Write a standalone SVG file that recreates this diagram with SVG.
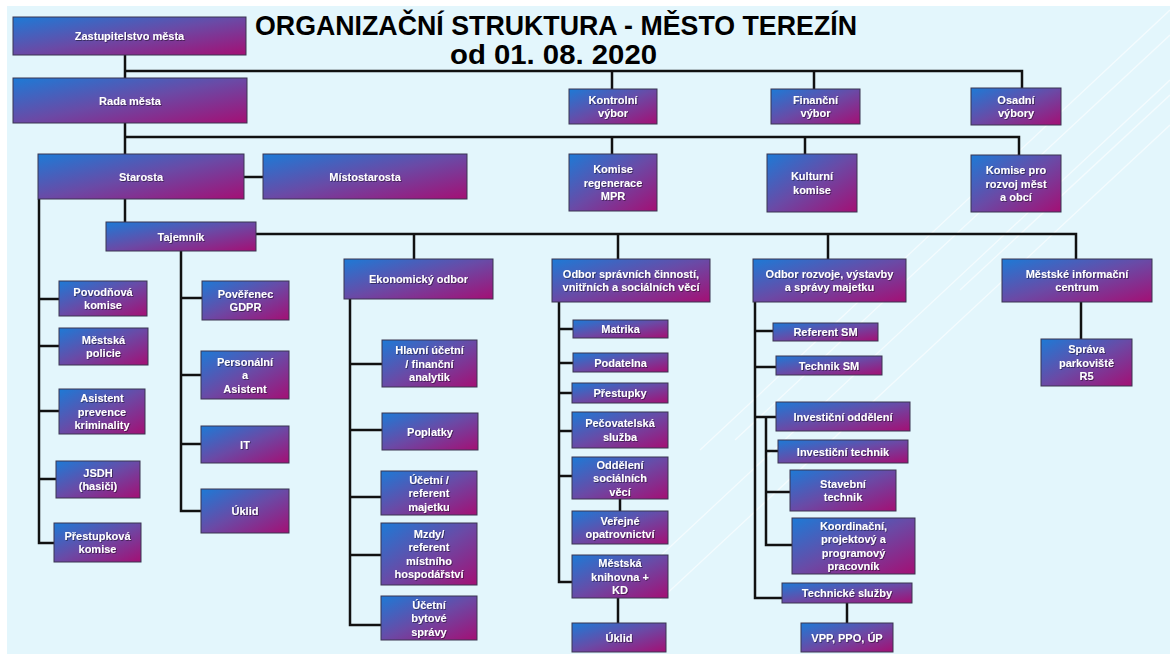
<svg xmlns="http://www.w3.org/2000/svg" width="1170" height="654" viewBox="0 0 1170 654">
<defs>
<linearGradient id="boxGrad" x1="0" y1="0" x2="1" y2="1">
<stop offset="0" stop-color="#1d7ad6"/>
<stop offset="0.5" stop-color="#6a4aa6"/>
<stop offset="1" stop-color="#a40f74"/>
</linearGradient>
<filter id="ts" x="-10%" y="-30%" width="130%" height="160%">
<feDropShadow dx="0.8" dy="0.8" stdDeviation="0.4" flood-color="#000" flood-opacity="0.55"/>
</filter>
</defs>
<style>
.bx{fill:url(#boxGrad);stroke:#3a3550;stroke-width:1}
.t{font-family:"Liberation Sans",Arial,sans-serif;font-weight:bold;font-size:11px;fill:#fff;text-anchor:middle;filter:url(#ts)}
.c{fill:none;stroke:#111;stroke-width:2.5}
.deco{stroke:#fff;stroke-opacity:0.6;stroke-width:1.3}
.title{font-family:"Liberation Sans",Arial,sans-serif;font-weight:bold;font-size:28px;fill:#000}
</style>
<rect x="0" y="0" width="1170" height="654" fill="#fff"/>
<rect x="7" y="6" width="1163" height="648" fill="#e3f6fc"/>
<g id="decor">
<line class="deco" x1="640" y1="575" x2="1170" y2="80"/>
<line class="deco" x1="660" y1="600" x2="1170" y2="125"/>
<line class="deco" x1="700" y1="450" x2="1170" y2="10"/>
<line class="deco" x1="735" y1="440" x2="1170" y2="35"/>
<line class="deco" x1="960" y1="290" x2="1170" y2="95"/>
</g>
<g id="title">
<text class="title" x="255" y="35" textLength="602" lengthAdjust="spacingAndGlyphs">ORGANIZAČNÍ STRUKTURA - MĚSTO TEREZÍN</text>
<text class="title" x="450" y="64" textLength="207" lengthAdjust="spacingAndGlyphs">od 01. 08. 2020</text>
</g>
<g id="connectors">
<path class="c" d="M125 55 V78 M125 71 H1022 V88 M612 71 V89 M814 71 V89"/>
<path class="c" d="M125 123 V154 M125 137 H1019 V155 M612 137 V154 M805 137 V154"/>
<path class="c" d="M244 177 H263"/>
<path class="c" d="M125 199 V222"/>
<path class="c" d="M39 199 V543 H54 M39 299 H59 M39 346 H59 M39 411 H59 M39 479 H56"/>
<path class="c" d="M256 234 H1076 V259 M414 234 V259 M618 234 V259 M828 234 V259"/>
<path class="c" d="M181 251 V511 H201 M181 298 H202 M181 375 H201 M181 444 H201"/>
<path class="c" d="M350 299 V625 H381 M350 364 H382 M350 430 H382 M350 497 H381 M350 555 H381"/>
<path class="c" d="M559 302 V582 H572 M559 329 H573 M559 363 H573 M559 393 H572 M559 431 H572 M559 476 H572 M620 499 V511 M618 598 V623"/>
<path class="c" d="M755 302 V598 H782 M755 331 H773 M755 367 H776 M755 417 H776 M766 417 V545 H792 M766 451 H778 M766 492 H790 M847 603 V623"/>
<path class="c" d="M1081 302 V339"/>
</g>
<g id="zastupitelstvo"><rect class="bx" x="13" y="17" width="233" height="38"/><text class="t" x="129.5" y="40">Zastupitelstvo města</text></g>
<g id="rada"><rect class="bx" x="13" y="78" width="234" height="45"/><text class="t" x="130" y="104.5">Rada města</text></g>
<g id="starosta"><rect class="bx" x="38" y="154" width="206" height="45"/><text class="t" x="141" y="180.5">Starosta</text></g>
<g id="mistostarosta"><rect class="bx" x="263" y="154" width="204" height="45"/><text class="t" x="365" y="180.5">Místostarosta</text></g>
<g id="kontrolni"><rect class="bx" x="569" y="89" width="88" height="35"/><text class="t" x="613" y="103.75">Kontrolní</text><text class="t" x="613" y="117.25">výbor</text></g>
<g id="financni"><rect class="bx" x="771" y="89" width="89" height="35"/><text class="t" x="815.5" y="103.75">Finanční</text><text class="t" x="815.5" y="117.25">výbor</text></g>
<g id="osadni"><rect class="bx" x="971" y="88" width="90" height="37"/><text class="t" x="1016" y="103.75">Osadní</text><text class="t" x="1016" y="117.25">výbory</text></g>
<g id="regenerace"><rect class="bx" x="569" y="154" width="88" height="57"/><text class="t" x="613" y="173">Komise</text><text class="t" x="613" y="186.5">regenerace</text><text class="t" x="613" y="200">MPR</text></g>
<g id="kulturni"><rect class="bx" x="767" y="154" width="90" height="58"/><text class="t" x="812" y="180.25">Kulturní</text><text class="t" x="812" y="193.75">komise</text></g>
<g id="rozvojmest"><rect class="bx" x="971" y="155" width="90" height="57"/><text class="t" x="1016" y="174">Komise pro</text><text class="t" x="1016" y="187.5">rozvoj měst</text><text class="t" x="1016" y="201">a obcí</text></g>
<g id="tajemnik"><rect class="bx" x="106" y="222" width="150" height="29"/><text class="t" x="181" y="240.5">Tajemník</text></g>
<g id="povodnova"><rect class="bx" x="59" y="281" width="88" height="35"/><text class="t" x="103" y="295.75">Povodňová</text><text class="t" x="103" y="309.25">komise</text></g>
<g id="policie"><rect class="bx" x="59" y="328" width="89" height="37"/><text class="t" x="103.5" y="343.75">Městská</text><text class="t" x="103.5" y="357.25">policie</text></g>
<g id="asistent"><rect class="bx" x="59" y="389" width="86" height="45"/><text class="t" x="102" y="402">Asistent</text><text class="t" x="102" y="415.5">prevence</text><text class="t" x="102" y="429">kriminality</text></g>
<g id="jsdh"><rect class="bx" x="56" y="461" width="84" height="37"/><text class="t" x="98" y="476.75">JSDH</text><text class="t" x="98" y="490.25">(hasiči)</text></g>
<g id="prestupkova"><rect class="bx" x="54" y="523" width="87" height="39"/><text class="t" x="97.5" y="539.75">Přestupková</text><text class="t" x="97.5" y="553.25">komise</text></g>
<g id="gdpr"><rect class="bx" x="202" y="281" width="87" height="39"/><text class="t" x="245.5" y="297.75">Pověřenec</text><text class="t" x="245.5" y="311.25">GDPR</text></g>
<g id="personalni"><rect class="bx" x="201" y="351" width="88" height="48"/><text class="t" x="245" y="365.5">Personální</text><text class="t" x="245" y="379">a</text><text class="t" x="245" y="392.5">Asistent</text></g>
<g id="it"><rect class="bx" x="201" y="426" width="88" height="37"/><text class="t" x="245" y="448.5">IT</text></g>
<g id="uklid1"><rect class="bx" x="201" y="489" width="88" height="44"/><text class="t" x="245" y="515">Úklid</text></g>
<g id="ekonomicky"><rect class="bx" x="344" y="259" width="149" height="40"/><text class="t" x="418.5" y="283">Ekonomický odbor</text></g>
<g id="hlavniucetni"><rect class="bx" x="382" y="340" width="95" height="47"/><text class="t" x="429.5" y="354">Hlavní účetní</text><text class="t" x="429.5" y="367.5">/ finanční</text><text class="t" x="429.5" y="381">analytik</text></g>
<g id="poplatky"><rect class="bx" x="382" y="413" width="96" height="37"/><text class="t" x="430" y="435.5">Poplatky</text></g>
<g id="ucetnimajetku"><rect class="bx" x="381" y="471" width="96" height="44"/><text class="t" x="429" y="483.5">Účetní /</text><text class="t" x="429" y="497">referent</text><text class="t" x="429" y="510.5">majetku</text></g>
<g id="mzdy"><rect class="bx" x="381" y="523" width="96" height="62"/><text class="t" x="429" y="537.75">Mzdy/</text><text class="t" x="429" y="551.25">referent</text><text class="t" x="429" y="564.75">místního</text><text class="t" x="429" y="578.25">hospodářství</text></g>
<g id="bytove"><rect class="bx" x="381" y="596" width="96" height="44"/><text class="t" x="429" y="608.5">Účetní</text><text class="t" x="429" y="622">bytové</text><text class="t" x="429" y="635.5">správy</text></g>
<g id="spravni"><rect class="bx" x="552" y="259" width="158" height="43"/><text class="t" x="631" y="277.75">Odbor správních činností,</text><text class="t" x="631" y="291.25">vnitřních a sociálních věcí</text></g>
<g id="matrika"><rect class="bx" x="573" y="320" width="95" height="18"/><text class="t" x="620.5" y="333">Matrika</text></g>
<g id="podatelna"><rect class="bx" x="573" y="353" width="95" height="19"/><text class="t" x="620.5" y="366.5">Podatelna</text></g>
<g id="prestupky"><rect class="bx" x="572" y="383" width="96" height="20"/><text class="t" x="620" y="397">Přestupky</text></g>
<g id="pecovatelska"><rect class="bx" x="572" y="412" width="96" height="36"/><text class="t" x="620" y="427.25">Pečovatelská</text><text class="t" x="620" y="440.75">služba</text></g>
<g id="socialni"><rect class="bx" x="572" y="457" width="96" height="42"/><text class="t" x="620" y="468.5">Oddělení</text><text class="t" x="620" y="482">sociálních</text><text class="t" x="620" y="495.5">věcí</text></g>
<g id="opatrovnictvi"><rect class="bx" x="572" y="511" width="96" height="33"/><text class="t" x="620" y="524.75">Veřejné</text><text class="t" x="620" y="538.25">opatrovnictví</text></g>
<g id="knihovna"><rect class="bx" x="572" y="555" width="96" height="43"/><text class="t" x="620" y="567">Městská</text><text class="t" x="620" y="580.5">knihovna +</text><text class="t" x="620" y="594">KD</text></g>
<g id="uklid2"><rect class="bx" x="572" y="623" width="94" height="29"/><text class="t" x="619" y="641.5">Úklid</text></g>
<g id="rozvoje"><rect class="bx" x="753" y="259" width="153" height="43"/><text class="t" x="829.5" y="277.75">Odbor rozvoje, výstavby</text><text class="t" x="829.5" y="291.25">a správy majetku</text></g>
<g id="referentsm"><rect class="bx" x="773" y="323" width="105" height="18"/><text class="t" x="825.5" y="336">Referent SM</text></g>
<g id="techniksm"><rect class="bx" x="776" y="356" width="106" height="19"/><text class="t" x="829" y="369.5">Technik SM</text></g>
<g id="investicniodd"><rect class="bx" x="776" y="402" width="134" height="29"/><text class="t" x="843" y="420.5">Investiční oddělení</text></g>
<g id="investicnitech"><rect class="bx" x="778" y="440" width="130" height="23"/><text class="t" x="843" y="455.5">Investiční technik</text></g>
<g id="stavebni"><rect class="bx" x="790" y="470" width="106" height="41"/><text class="t" x="843" y="487.75">Stavební</text><text class="t" x="843" y="501.25">technik</text></g>
<g id="koordinacni"><rect class="bx" x="792" y="518" width="123" height="56"/><text class="t" x="853.5" y="529.75">Koordinační,</text><text class="t" x="853.5" y="543.25">projektový a</text><text class="t" x="853.5" y="556.75">programový</text><text class="t" x="853.5" y="570.25">pracovník</text></g>
<g id="technicke"><rect class="bx" x="782" y="583" width="130" height="20"/><text class="t" x="847" y="597">Technické služby</text></g>
<g id="vpp"><rect class="bx" x="801" y="623" width="92" height="29"/><text class="t" x="847" y="641.5">VPP, PPO, ÚP</text></g>
<g id="mic"><rect class="bx" x="1002" y="259" width="150" height="43"/><text class="t" x="1077" y="277.75">Městské informační</text><text class="t" x="1077" y="291.25">centrum</text></g>
<g id="parkoviste"><rect class="bx" x="1041" y="339" width="91" height="47"/><text class="t" x="1086.5" y="353">Správa</text><text class="t" x="1086.5" y="366.5">parkoviště</text><text class="t" x="1086.5" y="380">R5</text></g>
</svg>
